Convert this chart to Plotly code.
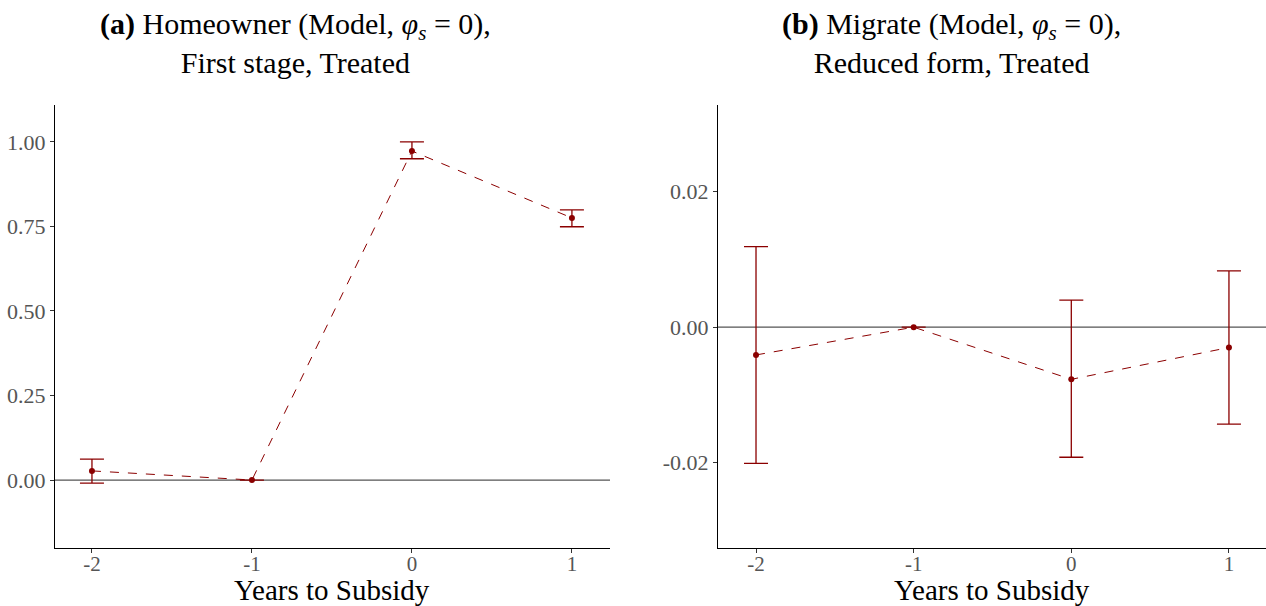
import plotly.graph_objects as go
from plotly.subplots import make_subplots

years = [-2, -1, 0, 1]
x_ticks = [-2, -1, 0, 1]
x_tick_labels = ["-2", "-1", "0", "1"]

# Panel (a): Homeowner, first stage
a_est = [0.027, 0.0, 0.973, 0.775]
a_hi = [0.062, 0.0, 1.000, 0.799]
a_lo = [-0.009, 0.0, 0.950, 0.749]
a_yticks = [0.0, 0.25, 0.5, 0.75, 1.0]
a_ylabels = ["0.00", "0.25", "0.50", "0.75", "1.00"]

# Panel (b): Migrate, reduced form
b_est = [-0.0041, 0.0, -0.0077, -0.0030]
b_hi = [0.0119, 0.0, 0.0040, 0.0083]
b_lo = [-0.0201, 0.0, -0.0192, -0.0143]
b_yticks = [-0.02, 0.0, 0.02]
b_ylabels = ["-0.02", "0.00", "0.02"]

RED = "#8B0000"
SERIF = "Liberation Serif"

fig = make_subplots(rows=1, cols=2, horizontal_spacing=0.09)

for col, est, hi, lo in [(1, a_est, a_hi, a_lo), (2, b_est, b_hi, b_lo)]:
    fig.add_trace(go.Scatter(
        x=years, y=est, mode="lines+markers",
        line=dict(color=RED, width=1, dash="dash"),
        marker=dict(color=RED, size=6),
        error_y=dict(type="data", symmetric=False,
                     array=[h - e for h, e in zip(hi, est)],
                     arrayminus=[e - l for e, l in zip(est, lo)],
                     color=RED, thickness=1.3, width=12),
        showlegend=False), row=1, col=col)

for xref, yref in [("x domain", "y"), ("x2 domain", "y2")]:
    fig.add_shape(type="line", xref=xref, yref=yref, x0=0, x1=1, y0=0, y1=0,
                  line=dict(color="#555555", width=1.2), layer="below")

axis_common = dict(showgrid=False, zeroline=False, showline=True, linecolor="black",
                   linewidth=1.2, ticks="outside", ticklen=4, tickcolor="#333333",
                   automargin=False,
                   tickfont=dict(family=SERIF, size=22, color="#555555"))

fig.update_xaxes(**axis_common, tickvals=x_ticks, ticktext=x_tick_labels, ticklabelstandoff=-7)
fig.update_xaxes(tickfont=dict(family=SERIF, size=21, color="#555555"))
fig.update_xaxes(range=[-2.231, 1.238], domain=[0, 0.4583], row=1, col=1)
fig.update_xaxes(range=[-2.241, 1.235], domain=[0.5475, 1], row=1, col=2)
fig.update_yaxes(**axis_common)
fig.update_yaxes(range=[-0.201, 1.109], tickvals=a_yticks, ticktext=a_ylabels, row=1, col=1)
fig.update_yaxes(range=[-0.0326, 0.0328], tickvals=b_yticks, ticktext=b_ylabels, row=1, col=2)

L, W = 55, 1211

# x-axis titles
for cx in [332, 992]:
    fig.add_annotation(xref="paper", yref="paper", x=(cx - L) / W, y=0, yshift=-60,
                       xanchor="center", yanchor="bottom", showarrow=False,
                       text="Years to Subsidy",
                       font=dict(family=SERIF, size=29, color="black"))

title_font = dict(family=SERIF, size=30, color="black")
fig.add_annotation(xref="paper", yref="paper", x=(295 - L) / W, y=1.0, yshift=24,
                   xanchor="center", yanchor="bottom", showarrow=False, align="center",
                   text="<b>(a)</b> Homeowner (Model, <i>φ<sub>s</sub></i> = 0),<br>First stage, Treated",
                   font=title_font)
fig.add_annotation(xref="paper", yref="paper", x=(951 - L) / W, y=1.0, yshift=24,
                   xanchor="center", yanchor="bottom", showarrow=False, align="center",
                   text="<b>(b)</b> Migrate (Model, <i>φ<sub>s</sub></i> = 0),<br>Reduced form, Treated",
                   font=title_font)

fig.update_layout(width=1266, height=606, margin=dict(l=55, r=0, t=105, b=58),
                  plot_bgcolor="white", paper_bgcolor="white")

fig.write_html("out.html", config={"displayModeBar": False},
               post_script="document.body.style.margin='0';")
